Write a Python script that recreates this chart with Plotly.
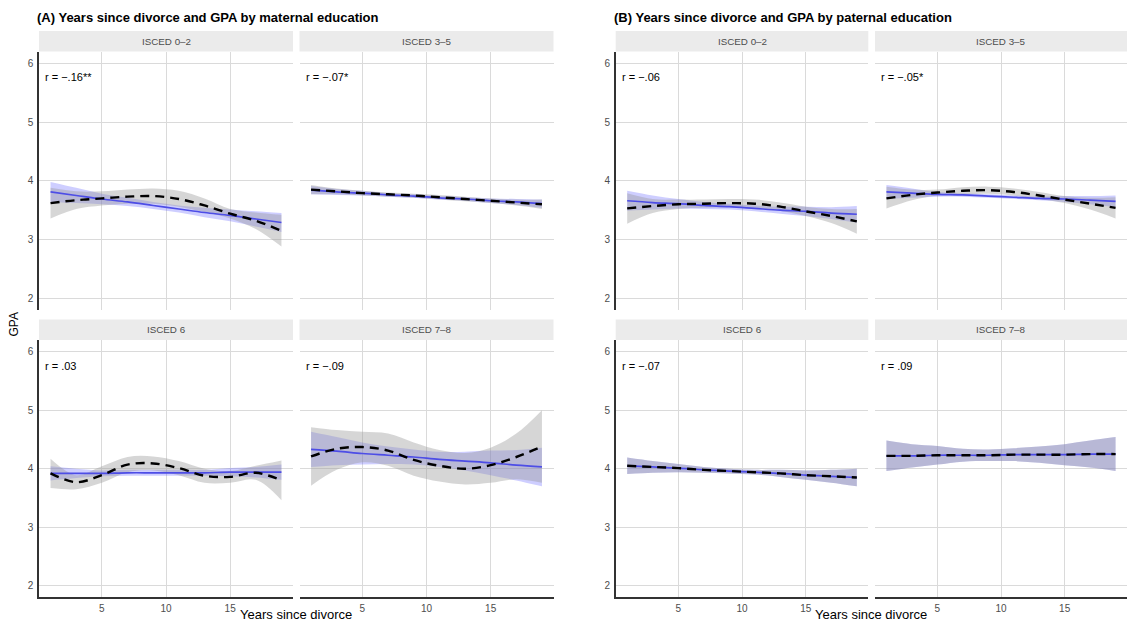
import plotly.graph_objects as go

# The page body adds an 8px margin, so the figure is sized to fit inside the window
OFF = 8
W, H = 1135 - 2 * OFF, 629 - 2 * OFF

# ---------------- data ----------------
years = [1, 3, 5, 7, 9, 11, 13, 15, 17, 19]

facet_labels = ["ISCED 0\u20132", "ISCED 3\u20135", "ISCED 6", "ISCED 7\u20138"]
panel_titles = ["(A) Years since divorce and GPA by maternal education",
                "(B) Years since divorce and GPA by paternal education"]
r_labels_A = ["r = \u2212.16**", "r = \u2212.07*", "r = .03", "r = \u2212.09"]
r_labels_B = ["r = \u2212.06", "r = \u2212.05*", "r = \u2212.07", "r = .09"]
y_ticks = [2, 3, 4, 5, 6]
x_ticks = [5, 10, 15]

# (A) maternal education: linear fit + CI, loess fit + CI
A_lm_fit = [
    [3.81, 3.75, 3.69, 3.64, 3.58, 3.52, 3.46, 3.41, 3.35, 3.29],
    [3.84, 3.81, 3.79, 3.76, 3.74, 3.71, 3.69, 3.66, 3.64, 3.61],
    [3.92, 3.92, 3.92, 3.93, 3.93, 3.93, 3.93, 3.94, 3.94, 3.94],
    [4.33, 4.30, 4.26, 4.23, 4.20, 4.16, 4.13, 4.10, 4.06, 4.03],
]
A_lm_lo = [
    [3.64, 3.62, 3.60, 3.57, 3.52, 3.46, 3.38, 3.31, 3.22, 3.13],
    [3.77, 3.76, 3.75, 3.73, 3.71, 3.68, 3.66, 3.62, 3.59, 3.54],
    [3.80, 3.84, 3.87, 3.88, 3.88, 3.88, 3.88, 3.87, 3.85, 3.81],
    [4.03, 4.06, 4.07, 4.08, 4.07, 4.03, 3.97, 3.89, 3.80, 3.70],
]
A_lm_hi = [
    [3.98, 3.88, 3.78, 3.71, 3.64, 3.58, 3.54, 3.51, 3.48, 3.45],
    [3.91, 3.86, 3.83, 3.79, 3.77, 3.74, 3.72, 3.70, 3.69, 3.68],
    [4.04, 4.00, 3.97, 3.98, 3.98, 3.98, 3.98, 4.01, 4.03, 4.07],
    [4.63, 4.54, 4.45, 4.38, 4.33, 4.29, 4.29, 4.31, 4.32, 4.36],
]
A_lo_fit = [
    [3.62, 3.67, 3.70, 3.73, 3.74, 3.69, 3.58, 3.44, 3.32, 3.15],
    [3.85, 3.82, 3.79, 3.77, 3.75, 3.72, 3.69, 3.66, 3.63, 3.60],
    [3.92, 3.77, 3.89, 4.07, 4.09, 4.01, 3.88, 3.86, 3.93, 3.80],
    [4.21, 4.34, 4.37, 4.31, 4.15, 4.05, 4.00, 4.06, 4.20, 4.38],
]
A_lo_lo = [
    [3.36, 3.52, 3.58, 3.61, 3.61, 3.56, 3.47, 3.36, 3.18, 2.88],
    [3.77, 3.77, 3.75, 3.73, 3.71, 3.68, 3.65, 3.62, 3.58, 3.52],
    [3.67, 3.65, 3.76, 3.94, 3.97, 3.89, 3.76, 3.76, 3.81, 3.46],
    [3.71, 3.98, 4.11, 4.05, 3.88, 3.78, 3.73, 3.76, 3.82, 3.76],
]
A_lo_hi = [
    [3.88, 3.82, 3.82, 3.85, 3.87, 3.83, 3.70, 3.52, 3.46, 3.42],
    [3.93, 3.87, 3.83, 3.80, 3.78, 3.76, 3.73, 3.70, 3.68, 3.68],
    [4.17, 3.89, 4.04, 4.20, 4.21, 4.13, 4.00, 3.96, 4.05, 4.14],
    [4.71, 4.66, 4.63, 4.60, 4.45, 4.32, 4.27, 4.36, 4.60, 5.00],
]

# (B) paternal education
B_lm_fit = [
    [3.66, 3.63, 3.61, 3.58, 3.56, 3.53, 3.50, 3.48, 3.45, 3.43],
    [3.81, 3.79, 3.77, 3.76, 3.74, 3.72, 3.70, 3.69, 3.67, 3.65],
    [4.05, 4.03, 4.01, 3.98, 3.96, 3.94, 3.92, 3.89, 3.87, 3.85],
    [4.22, 4.22, 4.23, 4.23, 4.23, 4.24, 4.24, 4.24, 4.25, 4.25],
]
B_lm_lo = [
    [3.49, 3.51, 3.53, 3.52, 3.51, 3.48, 3.44, 3.40, 3.35, 3.29],
    [3.69, 3.71, 3.73, 3.73, 3.71, 3.69, 3.67, 3.64, 3.60, 3.55],
    [3.91, 3.93, 3.94, 3.93, 3.92, 3.90, 3.86, 3.81, 3.76, 3.70],
    [3.96, 4.02, 4.07, 4.12, 4.13, 4.13, 4.10, 4.06, 4.02, 3.96],
]
B_lm_hi = [
    [3.83, 3.75, 3.69, 3.64, 3.61, 3.58, 3.56, 3.56, 3.55, 3.57],
    [3.93, 3.87, 3.81, 3.79, 3.77, 3.75, 3.73, 3.74, 3.74, 3.75],
    [4.19, 4.13, 4.08, 4.03, 4.00, 3.98, 3.98, 3.97, 3.98, 4.00],
    [4.48, 4.42, 4.39, 4.34, 4.33, 4.35, 4.38, 4.42, 4.48, 4.54],
]
B_lo_fit = [
    [3.53, 3.57, 3.60, 3.61, 3.62, 3.61, 3.56, 3.48, 3.40, 3.31],
    [3.70, 3.76, 3.80, 3.83, 3.84, 3.81, 3.75, 3.68, 3.61, 3.54],
    [4.05, 4.03, 4.01, 3.98, 3.96, 3.94, 3.92, 3.89, 3.87, 3.85],
    [4.22, 4.22, 4.23, 4.23, 4.23, 4.24, 4.24, 4.24, 4.25, 4.25],
]
B_lo_lo = [
    [3.27, 3.45, 3.52, 3.54, 3.55, 3.54, 3.49, 3.40, 3.28, 3.10],
    [3.53, 3.67, 3.75, 3.77, 3.78, 3.75, 3.69, 3.62, 3.51, 3.36],
    [3.91, 3.93, 3.94, 3.93, 3.92, 3.90, 3.86, 3.81, 3.76, 3.70],
    [3.96, 4.02, 4.07, 4.12, 4.13, 4.13, 4.10, 4.06, 4.02, 3.96],
]
B_lo_hi = [
    [3.79, 3.69, 3.68, 3.68, 3.69, 3.68, 3.63, 3.56, 3.52, 3.52],
    [3.90, 3.85, 3.85, 3.89, 3.90, 3.87, 3.81, 3.74, 3.71, 3.72],
    [4.19, 4.13, 4.08, 4.03, 4.00, 3.98, 3.98, 3.97, 3.98, 4.00],
    [4.48, 4.42, 4.39, 4.34, 4.33, 4.35, 4.38, 4.42, 4.48, 4.54],
]

# ---------------- layout geometry (window pixels) ----------------
col_px = [(39, 293), (299.5, 553.5), (615.7, 868.3), (875.0, 1127.0)]
row_px = [(51.6, 310), (340, 597.4)]
strip_px = [(31, 51.6), (319.5, 340)]

X_RANGE = [0.1, 19.9]
Y_RANGE = [1.8, 6.2]

FONT = "Liberation Sans, Arial, Helvetica, sans-serif"
GRID = "#dadada"
AXIS_LINE = "#333333"
TICK_COL = "#4d4d4d"
GRAY_FILL = "rgba(153,153,153,0.40)"
BLUE_FILL = "rgba(80,80,255,0.28)"
BLUE_LINE = "#4d4de6"


def px2x(p):
    return min(1.0, max(0.0, (p - OFF) / W))


def px2y(p):
    return min(1.0, max(0.0, 1 - (p - OFF) / H))


fig = go.Figure()
layout = {}
shapes = []
annotations = []

groups = [
    (A_lm_fit, A_lm_lo, A_lm_hi, A_lo_fit, A_lo_lo, A_lo_hi, r_labels_A),
    (B_lm_fit, B_lm_lo, B_lm_hi, B_lo_fit, B_lo_lo, B_lo_hi, r_labels_B),
]


def ribbon(lo, hi, color, xa, ya):
    fig.add_trace(go.Scatter(
        x=years, y=lo, mode="lines", line=dict(width=0, shape="spline"),
        hoverinfo="skip", showlegend=False, xaxis=xa, yaxis=ya))
    fig.add_trace(go.Scatter(
        x=years, y=hi, mode="lines", line=dict(width=0, shape="spline"),
        fill="tonexty", fillcolor=color,
        hoverinfo="skip", showlegend=False, xaxis=xa, yaxis=ya))


idx = 0
for g, (lmf, lml, lmh, lof, lol, loh, rl) in enumerate(groups):
    for f in range(4):
        idx += 1
        row = f // 2
        col = g * 2 + (f % 2)
        xa = "x" if idx == 1 else f"x{idx}"
        ya = "y" if idx == 1 else f"y{idx}"
        xk = "xaxis" if idx == 1 else f"xaxis{idx}"
        yk = "yaxis" if idx == 1 else f"yaxis{idx}"
        left = (f % 2 == 0)
        bottom = (row == 1)

        layout[xk] = dict(
            domain=[px2x(col_px[col][0]), px2x(col_px[col][1])],
            anchor=ya, range=X_RANGE, tickvals=x_ticks, automargin=False,
            showticklabels=bottom, showgrid=True, gridcolor=GRID, gridwidth=1,
            zeroline=False, showline=bottom, linecolor=AXIS_LINE, linewidth=1.5,
            ticks="", ticklabelstandoff=1,
            tickfont=dict(size=10, color=TICK_COL, family=FONT),
        )
        layout[yk] = dict(
            domain=[px2y(row_px[row][1]), px2y(row_px[row][0])],
            anchor=xa, range=Y_RANGE, tickvals=y_ticks, automargin=False,
            showticklabels=left, showgrid=True, gridcolor=GRID, gridwidth=1,
            zeroline=False, showline=left, linecolor=AXIS_LINE, linewidth=1.5,
            ticks="", ticklabelstandoff=2,
            tickfont=dict(size=10, color=TICK_COL, family=FONT),
        )

        ribbon(lml[f], lmh[f], BLUE_FILL, xa, ya)
        ribbon(lol[f], loh[f], GRAY_FILL, xa, ya)
        # linear fit
        fig.add_trace(go.Scatter(
            x=years, y=lmf[f], mode="lines",
            line=dict(color=BLUE_LINE, width=1.7, shape="spline"),
            showlegend=False, xaxis=xa, yaxis=ya))
        # loess fit
        fig.add_trace(go.Scatter(
            x=years, y=lof[f], mode="lines",
            line=dict(color="black", width=2.4, dash="9px,6px", shape="spline"),
            showlegend=False, xaxis=xa, yaxis=ya))

        # strip
        shapes.append(dict(
            type="rect", xref="paper", yref="paper",
            x0=px2x(col_px[col][0]), x1=px2x(col_px[col][1]),
            y0=px2y(strip_px[row][1]), y1=px2y(strip_px[row][0]),
            fillcolor="#ebebeb", line=dict(width=0), layer="below"))
        annotations.append(dict(
            xref="paper", yref="paper",
            x=px2x((col_px[col][0] + col_px[col][1]) / 2),
            y=px2y((strip_px[row][0] + strip_px[row][1]) / 2),
            text=facet_labels[f], showarrow=False,
            font=dict(size=9.8, color="#4d4d4d", family=FONT),
            xanchor="center", yanchor="middle"))
        # r label
        annotations.append(dict(
            xref=xa, yref=ya, x=0.45, y=5.76, text=rl[f], showarrow=False,
            xanchor="left", yanchor="middle",
            font=dict(size=11, color="black", family=FONT)))

# panel titles
for g, t in enumerate(panel_titles):
    annotations.append(dict(
        xref="paper", yref="paper", x=px2x([35, 612][g]), y=1,
        text=f"<b>{t}</b>", showarrow=False, xanchor="left", yanchor="top",
        font=dict(size=13, color="black", family=FONT)))
    # x axis title
    annotations.append(dict(
        xref="paper", yref="paper",
        x=px2x((col_px[g * 2][0] + col_px[g * 2 + 1][1]) / 2), y=0, yshift=-3,
        text="Years since divorce", showarrow=False, xanchor="center", yanchor="bottom",
        font=dict(size=13, color="black", family=FONT)))

# y axis title
annotations.append(dict(
    xref="paper", yref="paper", x=px2x(14), y=px2y(324.5), text="GPA",
    showarrow=False, textangle=-90, xanchor="center", yanchor="middle",
    font=dict(size=12, color="black", family=FONT)))

fig.update_layout(
    width=W, height=H,
    margin=dict(l=0, r=0, t=0, b=0),
    paper_bgcolor="white", plot_bgcolor="white",
    shapes=shapes, annotations=annotations,
    font=dict(family=FONT),
    **layout,
)

fig.write_html("out.html")
